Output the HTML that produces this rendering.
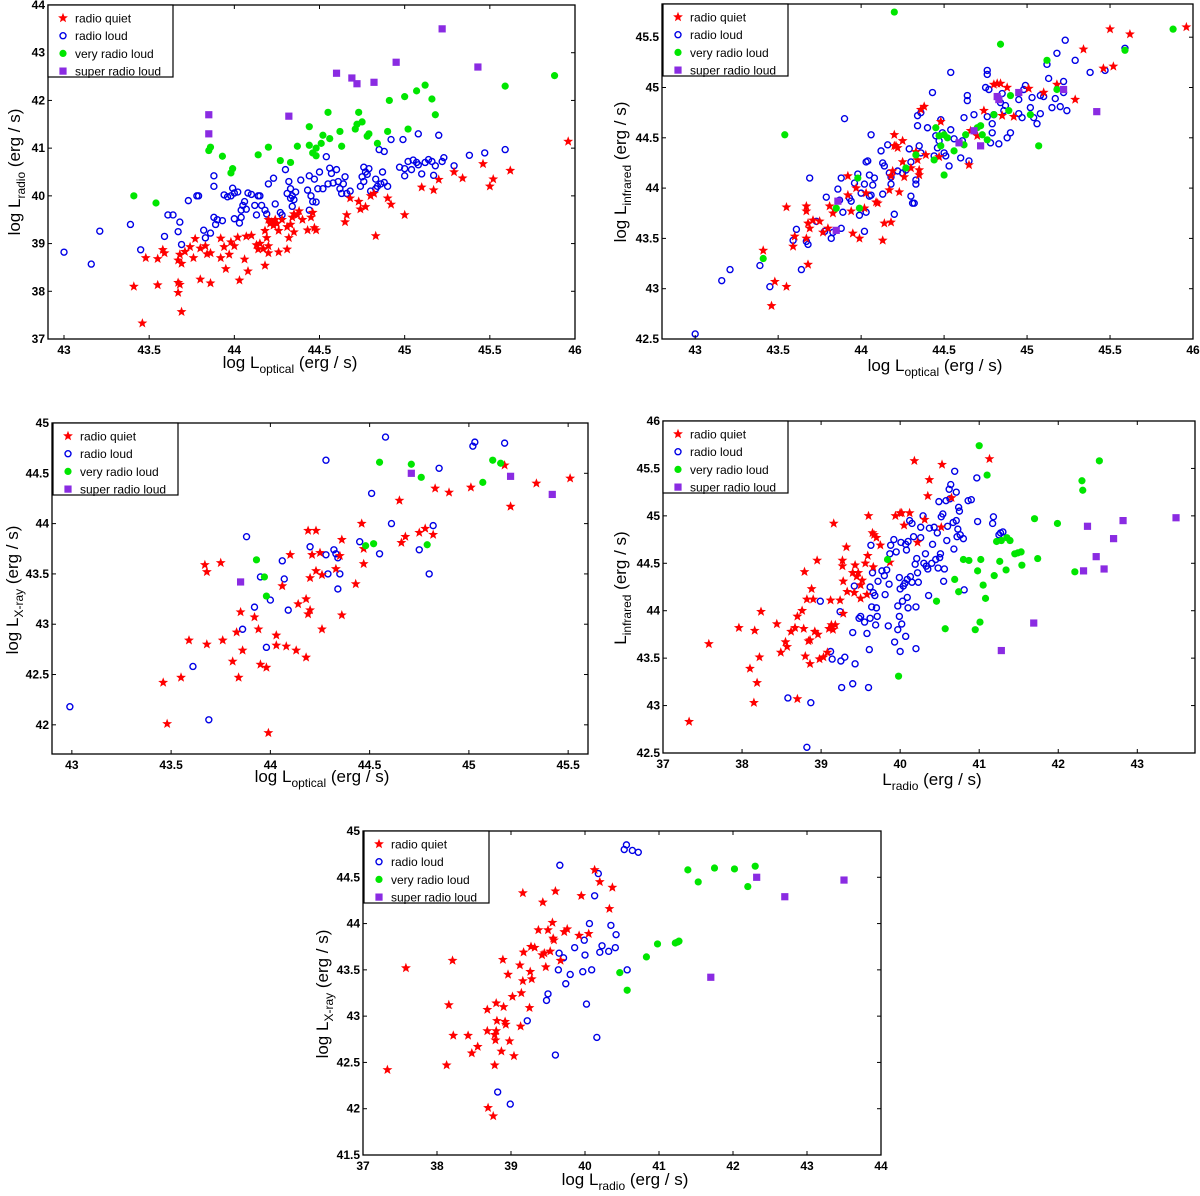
<!DOCTYPE html>
<html><head><meta charset="utf-8"><style>
body{margin:0;background:#fff}
svg{display:block;font-family:"Liberation Sans",sans-serif}
.tk{font-size:12px;font-weight:bold;fill:#000}
.lg{font-size:12px;fill:#000}
.al{font-size:17px;fill:#000}
</style></head><body>
<svg id="fig" width="1200" height="1196" viewBox="0 0 1200 1196"></svg>
<script>
const series_names=["radio quiet","radio loud","very radio loud","super radio loud"];
// Panel 1: optical vs radio
const p1_quiet=[[43.41,38.1],[43.46,37.33],[43.48,38.7],[43.55,38.13],[43.55,38.68],[43.58,38.87],[43.59,38.8],[43.67,38.65],[43.67,38.18],[43.67,37.97],[43.68,38.14],[43.68,38.77],[43.69,38.58],[43.69,37.57],[43.71,38.83],[43.74,38.93],[43.76,38.7],[43.77,39.1],[43.8,38.25],[43.8,38.9],[43.83,38.95],[43.84,38.78],[43.86,38.8],[43.86,38.17],[43.92,39.11],[43.92,38.7],[43.94,38.93],[43.95,38.47],[43.97,38.77],[43.98,39.03],[44.0,38.95],[44.02,39.13],[44.03,38.23],[44.06,38.67],[44.07,39.15],[44.08,38.42],[44.1,39.17],[44.13,38.97],[44.14,38.88],[44.15,39.0],[44.17,38.89],[44.18,39.27],[44.18,38.54],[44.19,39.12],[44.2,39.5],[44.2,38.8],[44.2,38.95],[44.21,39.42],[44.22,39.45],[44.23,39.38],[44.24,39.5],[44.25,39.42],[44.26,39.27],[44.26,38.82],[44.28,39.5],[44.31,39.35],[44.31,38.88],[44.32,39.12],[44.33,39.4],[44.34,39.55],[44.35,39.62],[44.35,39.24],[44.37,39.6],[44.38,39.68],[44.4,39.5],[44.43,39.28],[44.45,39.55],[44.46,39.65],[44.47,39.33],[44.48,39.28],[44.65,39.45],[44.66,39.6],[44.68,39.95],[44.73,39.88],[44.74,39.72],[44.77,39.77],[44.8,40.0],[44.82,40.05],[44.83,39.16],[44.9,39.95],[44.92,39.82],[45.0,39.6],[45.1,40.18],[45.17,40.12],[45.2,40.34],[45.29,40.5],[45.34,40.37],[45.46,40.67],[45.5,40.2],[45.52,40.35],[45.62,40.53],[45.96,41.14]];
const p1_loud=[[43.0,38.82],[43.16,38.57],[43.21,39.26],[43.39,39.4],[43.45,38.87],[43.59,39.15],[43.61,39.6],[43.64,39.6],[43.67,39.25],[43.68,39.45],[43.69,38.98],[43.73,39.9],[43.78,40.0],[43.79,40.0],[43.82,39.28],[43.83,39.12],[43.86,39.22],[43.88,40.42],[43.88,40.2],[43.88,39.55],[43.89,39.4],[43.9,39.5],[43.93,39.48],[43.94,40.02],[43.96,39.98],[43.98,40.0],[43.99,40.16],[44.0,40.06],[44.0,39.52],[44.02,40.08],[44.03,39.43],[44.04,39.7],[44.04,39.55],[44.05,39.8],[44.06,39.88],[44.07,39.72],[44.08,40.06],[44.1,40.03],[44.12,39.8],[44.13,39.6],[44.14,40.0],[44.15,40.0],[44.16,39.8],[44.18,39.7],[44.19,39.62],[44.2,40.25],[44.23,40.37],[44.24,39.83],[44.27,39.65],[44.28,39.6],[44.3,40.55],[44.31,40.05],[44.32,40.3],[44.33,40.15],[44.33,39.95],[44.34,39.78],[44.34,40.0],[44.35,39.92],[44.36,40.08],[44.39,40.33],[44.43,40.12],[44.44,40.42],[44.44,39.7],[44.45,40.0],[44.46,39.88],[44.47,40.35],[44.48,39.87],[44.49,40.15],[44.5,40.5],[44.52,40.15],[44.54,40.82],[44.55,40.25],[44.56,40.58],[44.57,40.47],[44.58,40.27],[44.6,40.55],[44.61,40.3],[44.62,40.15],[44.63,40.05],[44.64,40.25],[44.65,40.4],[44.66,40.05],[44.68,40.1],[44.74,40.2],[44.75,40.4],[44.76,40.6],[44.76,40.3],[44.77,40.5],[44.78,40.45],[44.79,40.57],[44.8,40.1],[44.83,40.35],[44.83,40.15],[44.84,40.2],[44.85,40.97],[44.86,40.25],[44.87,40.5],[44.88,40.93],[44.88,40.28],[44.9,40.2],[44.92,41.18],[44.97,40.6],[44.99,41.18],[45.0,40.42],[45.0,40.57],[45.02,40.72],[45.04,40.55],[45.05,40.75],[45.07,40.7],[45.08,40.65],[45.08,41.3],[45.1,40.46],[45.12,40.7],[45.14,40.76],[45.16,40.72],[45.17,40.43],[45.18,40.63],[45.2,41.27],[45.22,40.72],[45.23,40.8],[45.29,40.63],[45.38,40.85],[45.47,40.9],[45.59,40.97]];
const p1_very=[[43.41,40.0],[43.54,39.85],[43.85,40.95],[43.86,41.02],[43.93,40.83],[43.98,40.48],[43.99,40.57],[44.14,40.86],[44.2,41.02],[44.27,40.74],[44.33,40.7],[44.37,41.04],[44.44,41.45],[44.44,41.06],[44.46,40.9],[44.48,40.84],[44.48,41.0],[44.51,41.1],[44.52,41.27],[44.55,41.75],[44.56,41.2],[44.62,41.35],[44.63,41.04],[44.71,41.4],[44.72,41.5],[44.73,41.75],[44.75,41.55],[44.78,41.25],[44.79,41.3],[44.84,41.1],[44.9,41.35],[44.91,42.0],[45.0,42.08],[45.02,41.4],[45.07,42.2],[45.12,42.32],[45.16,42.03],[45.18,41.7],[45.59,42.3],[45.88,42.52]];
const p1_super=[[43.85,41.7],[43.85,41.3],[44.32,41.67],[44.6,42.57],[44.69,42.47],[44.72,42.35],[44.82,42.38],[44.95,42.8],[45.22,43.5],[45.43,42.7]];
// Panel 2: optical vs infrared
const p2_quiet=[[43.41,43.38],[43.46,42.83],[43.48,43.07],[43.55,43.02],[43.55,43.81],[43.59,43.42],[43.6,43.52],[43.67,43.82],[43.67,43.77],[43.67,43.5],[43.68,43.65],[43.68,43.24],[43.69,43.6],[43.71,43.68],[43.75,43.67],[43.77,43.56],[43.8,43.6],[43.81,43.82],[43.83,43.75],[43.92,44.12],[43.92,43.93],[43.94,43.77],[43.95,43.55],[43.97,44.0],[43.99,43.5],[44.02,43.8],[44.03,43.95],[44.09,43.86],[44.1,43.85],[44.13,43.48],[44.14,43.65],[44.17,43.98],[44.18,43.66],[44.18,44.12],[44.19,44.17],[44.2,44.53],[44.2,44.42],[44.21,44.42],[44.22,44.4],[44.23,43.96],[44.25,44.26],[44.25,44.47],[44.26,44.11],[44.3,44.2],[44.33,44.36],[44.34,44.28],[44.35,44.18],[44.35,44.13],[44.36,44.78],[44.38,44.81],[44.39,44.33],[44.47,44.31],[44.48,44.66],[44.65,44.23],[44.66,44.57],[44.7,44.52],[44.74,44.77],[44.8,45.03],[44.82,45.04],[44.84,45.04],[44.85,44.72],[44.88,45.0],[44.92,44.71],[45.01,44.99],[45.1,44.95],[45.18,45.03],[45.29,44.88],[45.34,45.38],[45.46,45.19],[45.5,45.58],[45.52,45.21],[45.62,45.53],[45.96,45.6]];
const p2_loud=[[43.0,42.55],[43.16,43.08],[43.21,43.19],[43.39,43.23],[43.45,43.02],[43.59,43.48],[43.61,43.59],[43.64,43.19],[43.67,43.47],[43.68,43.44],[43.69,44.1],[43.73,43.67],[43.78,43.57],[43.79,43.91],[43.82,43.5],[43.83,43.56],[43.86,43.99],[43.87,43.88],[43.88,44.1],[43.88,43.6],[43.89,43.76],[43.9,44.69],[43.93,43.9],[43.94,43.87],[43.96,44.05],[43.98,44.14],[43.99,43.73],[44.0,43.95],[44.02,44.04],[44.02,43.57],[44.03,44.26],[44.03,43.76],[44.04,44.27],[44.05,44.13],[44.05,43.92],[44.06,43.93],[44.07,44.03],[44.08,44.1],[44.12,44.37],[44.13,44.25],[44.13,43.94],[44.14,44.22],[44.16,44.43],[44.17,44.15],[44.18,44.04],[44.18,44.11],[44.2,43.74],[44.06,44.53],[44.22,44.17],[44.25,44.15],[44.27,44.18],[44.29,44.39],[44.3,44.26],[44.3,43.92],[44.31,43.85],[44.32,43.85],[44.33,44.04],[44.33,44.08],[44.34,44.62],[44.34,44.72],[44.35,44.42],[44.36,44.75],[44.36,44.35],[44.4,44.6],[44.43,44.95],[44.44,44.32],[44.45,44.52],[44.46,44.4],[44.47,44.47],[44.48,44.68],[44.49,44.55],[44.5,44.35],[44.51,44.32],[44.53,44.22],[44.54,44.58],[44.54,45.15],[44.56,44.49],[44.6,44.3],[44.61,44.47],[44.62,44.7],[44.64,44.87],[44.64,44.92],[44.65,44.27],[44.68,44.73],[44.75,45.0],[44.76,44.71],[44.76,45.17],[44.76,45.13],[44.77,44.98],[44.78,44.45],[44.79,44.64],[44.79,44.55],[44.8,44.73],[44.83,44.44],[44.84,44.85],[44.85,44.94],[44.86,44.77],[44.87,44.82],[44.88,44.5],[44.9,44.55],[44.95,44.88],[44.95,44.74],[44.97,44.7],[44.98,44.98],[44.99,45.02],[45.02,44.8],[45.03,44.9],[45.04,44.7],[45.06,44.64],[45.08,44.74],[45.08,44.92],[45.1,44.91],[45.12,45.23],[45.13,45.09],[45.15,44.8],[45.17,44.89],[45.18,45.34],[45.2,44.81],[45.22,44.95],[45.22,45.06],[45.23,45.47],[45.24,44.77],[45.29,45.27],[45.38,45.15],[45.47,45.17],[45.59,45.39]];
const p2_very=[[43.41,43.3],[43.54,44.53],[43.85,43.8],[43.98,44.1],[43.99,43.8],[44.2,45.75],[44.27,44.2],[44.33,44.33],[44.44,44.28],[44.45,44.6],[44.47,44.52],[44.48,44.42],[44.5,44.53],[44.5,44.13],[44.52,44.5],[44.56,44.37],[44.62,44.43],[44.63,44.53],[44.7,44.6],[44.72,44.62],[44.73,44.53],[44.76,44.48],[44.8,44.73],[44.84,45.43],[44.89,44.77],[44.9,44.92],[45.02,44.73],[45.07,44.42],[45.12,45.27],[45.18,44.98],[45.59,45.37],[45.88,45.58]];
const p2_super=[[43.86,43.87],[43.85,43.58],[44.59,44.45],[44.68,44.57],[44.72,44.42],[44.82,44.91],[44.83,44.88],[44.95,44.95],[45.22,44.98],[45.42,44.76]];
// Panel 3: optical vs X-ray
const p3_quiet=[[43.46,42.42],[43.48,42.01],[43.55,42.47],[43.59,42.84],[43.67,43.59],[43.68,42.8],[43.68,43.52],[43.75,43.61],[43.76,42.84],[43.81,42.63],[43.83,42.92],[43.84,42.47],[43.85,43.12],[43.86,42.74],[43.92,43.07],[43.94,42.95],[43.95,42.6],[43.98,42.57],[43.99,41.92],[44.03,42.89],[44.03,42.79],[44.06,43.38],[44.08,42.78],[44.1,43.69],[44.13,42.74],[44.14,43.2],[44.18,42.67],[44.18,43.25],[44.19,43.1],[44.19,43.93],[44.2,43.14],[44.2,43.46],[44.21,43.69],[44.23,43.93],[44.23,43.53],[44.25,43.71],[44.26,43.49],[44.26,42.95],[44.33,43.55],[44.35,43.68],[44.36,43.84],[44.36,43.09],[44.43,43.4],[44.46,44.0],[44.47,43.75],[44.47,43.6],[44.65,44.23],[44.66,43.81],[44.68,43.87],[44.75,43.91],[44.78,43.95],[44.82,43.89],[44.83,44.35],[44.9,44.31],[45.01,44.36],[45.18,44.58],[45.21,44.17],[45.34,44.4],[45.51,44.45]];
const p3_loud=[[42.99,42.18],[43.61,42.58],[43.69,42.05],[43.86,42.95],[43.88,43.87],[43.92,43.17],[43.95,43.47],[43.98,42.77],[44.0,43.24],[44.06,43.63],[44.07,43.45],[44.09,43.14],[44.2,43.77],[44.28,43.69],[44.28,44.63],[44.29,43.5],[44.32,43.74],[44.33,43.7],[44.34,43.66],[44.34,43.35],[44.35,43.5],[44.45,43.82],[44.51,44.3],[44.55,43.7],[44.58,44.86],[44.61,44.0],[44.75,43.74],[44.8,43.5],[44.82,43.98],[44.85,44.55],[45.02,44.77],[45.03,44.81],[45.18,44.8]];
const p3_very=[[43.93,43.64],[43.97,43.47],[43.98,43.28],[44.48,43.78],[44.52,43.8],[44.55,44.61],[44.71,44.59],[44.76,44.46],[44.79,43.79],[45.07,44.41],[45.12,44.63],[45.16,44.6]];
const p3_super=[[43.85,43.42],[44.71,44.5],[45.21,44.47],[45.42,44.29]];
// Panel 4: radio vs infrared
const p4_quiet=[[37.33,42.83],[37.58,43.65],[37.96,43.82],[38.1,43.39],[38.15,43.03],[38.16,43.79],[38.19,43.24],[38.22,43.51],[38.24,43.99],[38.44,43.86],[38.49,43.56],[38.55,43.67],[38.57,43.62],[38.62,43.78],[38.67,43.82],[38.7,43.94],[38.7,43.07],[38.76,44.0],[38.78,43.81],[38.79,44.41],[38.8,43.52],[38.82,44.12],[38.84,43.68],[38.86,43.44],[38.86,43.69],[38.88,44.23],[38.9,44.12],[38.92,43.78],[38.95,44.53],[38.96,43.75],[38.98,43.49],[39.03,43.51],[39.08,43.56],[39.1,43.81],[39.12,44.11],[39.13,43.85],[39.15,43.8],[39.16,44.92],[39.18,43.85],[39.24,44.11],[39.27,44.53],[39.27,44.47],[39.28,44.31],[39.28,43.97],[39.32,44.67],[39.33,44.2],[39.4,44.4],[39.42,44.19],[39.43,44.48],[39.45,44.36],[39.47,44.4],[39.5,44.27],[39.5,44.13],[39.52,44.32],[39.56,44.5],[39.58,44.17],[39.59,44.58],[39.6,45.0],[39.65,44.82],[39.66,44.46],[39.67,44.8],[39.7,44.77],[39.75,44.69],[39.87,44.51],[39.94,45.0],[40.0,45.03],[40.02,45.03],[40.05,44.9],[40.12,45.03],[40.18,45.58],[40.22,44.72],[40.31,44.96],[40.35,45.21],[40.37,45.38],[40.53,45.54],[40.52,44.88],[40.65,45.19],[41.13,45.6]];
const p4_loud=[[38.58,43.08],[38.82,42.56],[38.87,43.03],[38.99,44.1],[39.12,43.57],[39.14,43.49],[39.24,43.99],[39.25,43.47],[39.26,43.19],[39.3,43.51],[39.4,43.23],[39.4,43.77],[39.42,44.26],[39.43,43.44],[39.48,43.92],[39.5,43.94],[39.55,43.88],[39.58,43.76],[39.6,43.19],[39.61,43.59],[39.62,44.25],[39.62,43.92],[39.63,44.69],[39.64,44.04],[39.65,44.4],[39.66,44.19],[39.68,44.16],[39.69,43.85],[39.7,44.03],[39.71,43.94],[39.72,44.31],[39.77,44.42],[39.8,44.37],[39.81,44.17],[39.83,44.43],[39.85,43.84],[39.86,44.28],[39.87,44.6],[39.88,44.69],[39.92,44.75],[39.93,43.67],[39.95,44.62],[39.97,44.05],[39.97,43.8],[39.99,44.35],[39.99,43.94],[40.0,43.57],[40.0,44.23],[40.01,44.72],[40.02,43.86],[40.03,44.1],[40.04,44.26],[40.06,44.29],[40.07,43.73],[40.07,44.7],[40.08,44.64],[40.09,44.14],[40.09,44.33],[40.1,44.73],[40.1,44.03],[40.12,44.95],[40.13,44.36],[40.15,44.92],[40.15,44.3],[40.17,44.78],[40.19,44.49],[40.2,43.6],[40.2,44.04],[40.21,44.55],[40.22,44.4],[40.23,44.3],[40.26,44.88],[40.26,44.77],[40.29,45.0],[40.3,44.5],[40.32,44.6],[40.33,44.47],[40.35,44.44],[40.36,44.16],[40.37,44.87],[40.4,44.5],[40.41,44.7],[40.43,44.88],[40.45,44.54],[40.47,44.82],[40.48,44.45],[40.49,45.15],[40.5,44.56],[40.51,44.6],[40.52,44.99],[40.54,45.02],[40.55,44.31],[40.56,44.44],[40.58,45.16],[40.59,44.74],[40.6,44.89],[40.62,45.28],[40.63,45.18],[40.64,45.33],[40.67,44.93],[40.68,44.65],[40.69,45.47],[40.71,44.95],[40.71,45.25],[40.72,44.78],[40.73,44.86],[40.74,45.09],[40.75,45.05],[40.76,44.8],[40.8,44.76],[40.81,44.22],[40.86,45.16],[40.9,45.17],[40.97,45.4],[40.98,44.94],[41.17,44.92],[41.18,44.99],[41.27,44.82],[41.3,44.83],[41.25,44.8]];
const p4_very=[[39.84,44.54],[39.98,43.31],[40.46,44.1],[40.57,43.81],[40.69,44.33],[40.74,44.2],[40.8,44.54],[40.87,44.53],[40.95,43.8],[40.98,44.42],[41.0,45.74],[41.01,43.88],[41.02,44.54],[41.05,44.27],[41.08,44.13],[41.1,45.43],[41.19,44.37],[41.22,44.73],[41.26,44.52],[41.28,44.74],[41.34,44.43],[41.35,44.77],[41.39,44.74],[41.45,44.6],[41.49,44.61],[41.53,44.62],[41.54,44.48],[41.7,44.97],[41.74,44.55],[41.99,44.92],[42.21,44.41],[42.3,45.37],[42.31,45.27],[42.52,45.58]];
const p4_super=[[41.28,43.58],[41.69,43.87],[42.32,44.42],[42.37,44.89],[42.48,44.57],[42.58,44.44],[42.7,44.76],[42.82,44.95],[43.49,44.98]];
// Panel 5: radio vs X-ray
const p5_quiet=[[37.33,42.42],[37.58,43.52],[38.13,42.47],[38.16,43.12],[38.21,43.6],[38.22,42.79],[38.42,42.79],[38.47,42.6],[38.55,42.67],[38.68,43.07],[38.68,42.84],[38.69,42.01],[38.76,41.92],[38.78,42.47],[38.78,42.8],[38.79,42.74],[38.8,43.14],[38.8,42.84],[38.81,42.95],[38.87,42.62],[38.89,43.61],[38.9,43.1],[38.92,42.94],[38.93,42.91],[38.96,43.45],[38.98,42.73],[39.02,43.21],[39.04,42.57],[39.12,43.55],[39.13,42.89],[39.14,43.25],[39.16,43.38],[39.16,44.33],[39.17,43.69],[39.25,43.09],[39.26,43.48],[39.27,43.75],[39.28,43.4],[39.32,43.74],[39.37,43.93],[39.42,43.66],[39.43,44.23],[39.45,43.68],[39.47,43.53],[39.5,43.93],[39.53,43.7],[39.56,44.01],[39.57,43.84],[39.58,43.82],[39.6,44.35],[39.67,43.6],[39.72,43.91],[39.76,43.94],[39.92,43.87],[39.95,44.3],[40.05,43.89],[40.13,44.58],[40.2,44.45],[40.33,44.16],[40.37,44.39]];
const p5_loud=[[38.82,42.18],[38.99,42.05],[39.22,42.95],[39.48,43.17],[39.5,43.24],[39.6,42.58],[39.64,43.5],[39.66,44.63],[39.65,43.68],[39.71,43.63],[39.74,43.35],[39.8,43.45],[39.86,43.74],[39.97,43.48],[39.99,43.82],[40.0,43.66],[40.02,43.13],[40.06,44.0],[40.09,43.5],[40.13,44.3],[40.16,42.77],[40.18,44.54],[40.2,43.69],[40.23,43.76],[40.32,43.7],[40.35,43.98],[40.41,43.74],[40.42,43.88],[40.53,44.8],[40.56,44.85],[40.57,43.5],[40.64,44.79],[40.72,44.77]];
const p5_very=[[40.47,43.47],[40.57,43.28],[40.83,43.64],[40.98,43.78],[41.22,43.79],[41.25,43.8],[41.27,43.81],[41.39,44.58],[41.53,44.45],[41.75,44.6],[42.02,44.59],[42.2,44.4],[42.3,44.62]];
const p5_super=[[41.7,43.42],[42.32,44.5],[42.7,44.29],[43.5,44.47]];
const p1_xticks=[43,43.5,44,44.5,45,45.5,46], p1_yticks=[37,38,39,40,41,42,43,44];
const p2_xticks=[43,43.5,44,44.5,45,45.5,46], p2_yticks=[42.5,43,43.5,44,44.5,45,45.5];
const p3_xticks=[43,43.5,44,44.5,45,45.5], p3_yticks=[42,42.5,43,43.5,44,44.5,45];
const p4_xticks=[37,38,39,40,41,42,43], p4_yticks=[42.5,43,43.5,44,44.5,45,45.5,46];
const p5_xticks=[37,38,39,40,41,42,43,44], p5_yticks=[41.5,42,42.5,43,43.5,44,44.5,45];

const NS="http://www.w3.org/2000/svg", svg=document.getElementById('fig');
function mk(tag,attrs,parent){const e=document.createElementNS(NS,tag);for(const k in attrs)e.setAttribute(k,attrs[k]);(parent||svg).appendChild(e);return e;}
const COL={quiet:'#f00',loud:'#0000e6',very:'#00e600',super:'#8a2be2'};
function star(cx,cy,r){let d='';for(let i=0;i<10;i++){const a=-Math.PI/2+i*Math.PI/5,rr=i%2?r*0.42:r;d+=(i?'L':'M')+(cx+rr*Math.cos(a)).toFixed(1)+','+(cy+rr*Math.sin(a)).toFixed(1);}return d+'Z';}
function marker(g,type,x,y){
  let e;
  if(type==='quiet'){e=mk('path',{d:star(x,y,5.2),fill:COL.quiet},g);}
  else if(type==='loud'){e=mk('circle',{cx:x,cy:y,r:3,fill:'none',stroke:COL.loud,'stroke-width':1.4},g);}
  else if(type==='very'){e=mk('circle',{cx:x,cy:y,r:3.6,fill:COL.very},g);}
  else {e=mk('rect',{x:x-3.6,y:y-3.6,width:7.2,height:7.2,fill:COL.super},g);}
  return e;
}
function panel(o){
  const g=mk('g',{});
  
  
  const sx=v=>o.L+(v-o.x0)/(o.x1-o.x0)*(o.R-o.L);
  const sy=v=>o.B-(v-o.y0)/(o.y1-o.y0)*(o.B-o.T);
  const clip='c'+o.name;
  const cp=mk('clipPath',{id:clip},g);mk('rect',{x:o.L,y:o.T,width:o.R-o.L,height:o.B-o.T},cp);
  const pg=mk('g',{'clip-path':'url(#'+clip+')'},g);
  [['loud',o.loud],['quiet',o.quiet],['very',o.very],['super',o.sup]].forEach(([t,arr])=>{
    arr.forEach(p=>{const m=marker(pg,t,sx(p[0]),sy(p[1]));
      
      });
  });
  const box=mk('rect',{x:o.L,y:o.T,width:o.R-o.L,height:o.B-o.T,fill:'none',stroke:'#000','stroke-width':1.3},g);
  
  
  o.xt.forEach(v=>{const x=sx(v);
    mk('line',{x1:x,y1:o.B,x2:x,y2:o.B-4,stroke:'#000'},g);mk('line',{x1:x,y1:o.T,x2:x,y2:o.T+4,stroke:'#000'},g);
    const t=mk('text',{x:x,y:o.B+15,'text-anchor':'middle',class:'tk'},g);t.textContent=String(v);
    
    });
  o.yt.forEach(v=>{const y=sy(v);
    mk('line',{x1:o.L,y1:y,x2:o.L+4,y2:y,stroke:'#000'},g);mk('line',{x1:o.R,y1:y,x2:o.R-4,y2:y,stroke:'#000'},g);
    const t=mk('text',{x:o.L-3,y:y+4,'text-anchor':'end',class:'tk'},g);t.textContent=String(v);
    
    });
  const lg=mk('g',{},g);
  
  
  mk('rect',{x:o.lx,y:o.ly,width:125,height:72,fill:'#fff',stroke:'#000','stroke-width':1.2},lg);
  ['quiet','loud','very','super'].forEach((t,i)=>{const yy=o.ly+13+i*17.7;
    marker(lg,t,o.lx+15,yy);
    const tx=mk('text',{x:o.lx+27,y:yy+4.5,class:'lg'},lg);tx.textContent=series_names[i];
    
    });
  const xl=mk('text',{x:o.xlx,y:o.xly,'text-anchor':'middle',class:'al'},g);
  xl.innerHTML=o.xlab;
  
  
  const yl=mk('text',{x:0,y:0,'text-anchor':'middle',class:'al',transform:`translate(${o.ylx},${o.yly}) rotate(-90)`},g);
  yl.innerHTML=o.ylab;
  
  
}
const sub=(a,s,b)=>`${a}<tspan font-size="12" dy="5">${s}</tspan><tspan dy="-5"> ${b}</tspan>`;
panel({name:'panel-optical-radio',L:48,R:575,T:5,B:339,x0:42.906,x1:46,y0:37,y1:44,xt:p1_xticks,yt:p1_yticks,quiet:p1_quiet,loud:p1_loud,very:p1_very,sup:p1_super,lx:48,ly:5,
  xlab:sub('log L','optical','(erg / s)'),xlx:290,xly:368,ylab:sub('log L','radio','(erg / s)'),ylx:20,yly:172});
panel({name:'panel-optical-infrared',L:662,R:1193,T:4,B:339,x0:42.8,x1:46,y0:42.5,y1:45.83,xt:p2_xticks,yt:p2_yticks,quiet:p2_quiet,loud:p2_loud,very:p2_very,sup:p2_super,lx:663,ly:4,
  xlab:sub('log L','optical','(erg / s)'),xlx:935,xly:371,ylab:sub('log L','infrared','(erg / s)'),ylx:626,yly:172});
panel({name:'panel-optical-xray',L:52,R:588,T:423,B:754,x0:42.9,x1:45.6,y0:41.71,y1:45,xt:p3_xticks,yt:p3_yticks,quiet:p3_quiet,loud:p3_loud,very:p3_very,sup:p3_super,lx:53,ly:423,
  xlab:sub('log L','optical','(erg / s)'),xlx:322,xly:782,ylab:sub('log L','X-ray','(erg / s)'),ylx:18,yly:590});
panel({name:'panel-radio-infrared',L:663,R:1195,T:421,B:753,x0:37,x1:43.73,y0:42.5,y1:46,xt:p4_xticks,yt:p4_yticks,quiet:p4_quiet,loud:p4_loud,very:p4_very,sup:p4_super,lx:663,ly:421,
  xlab:sub('L','radio','(erg / s)'),xlx:932,xly:785,ylab:sub('L','infrared','(erg / s)'),ylx:626,yly:588});
panel({name:'panel-radio-xray',L:363,R:881,T:831,B:1155,x0:37,x1:44,y0:41.5,y1:45,xt:p5_xticks,yt:p5_yticks,quiet:p5_quiet,loud:p5_loud,very:p5_very,sup:p5_super,lx:364,ly:831,
  xlab:sub('log L','radio','(erg / s)'),xlx:625,xly:1185,ylab:sub('log L','X-ray','(erg / s)'),ylx:328,yly:994});
</script>
</body></html>
